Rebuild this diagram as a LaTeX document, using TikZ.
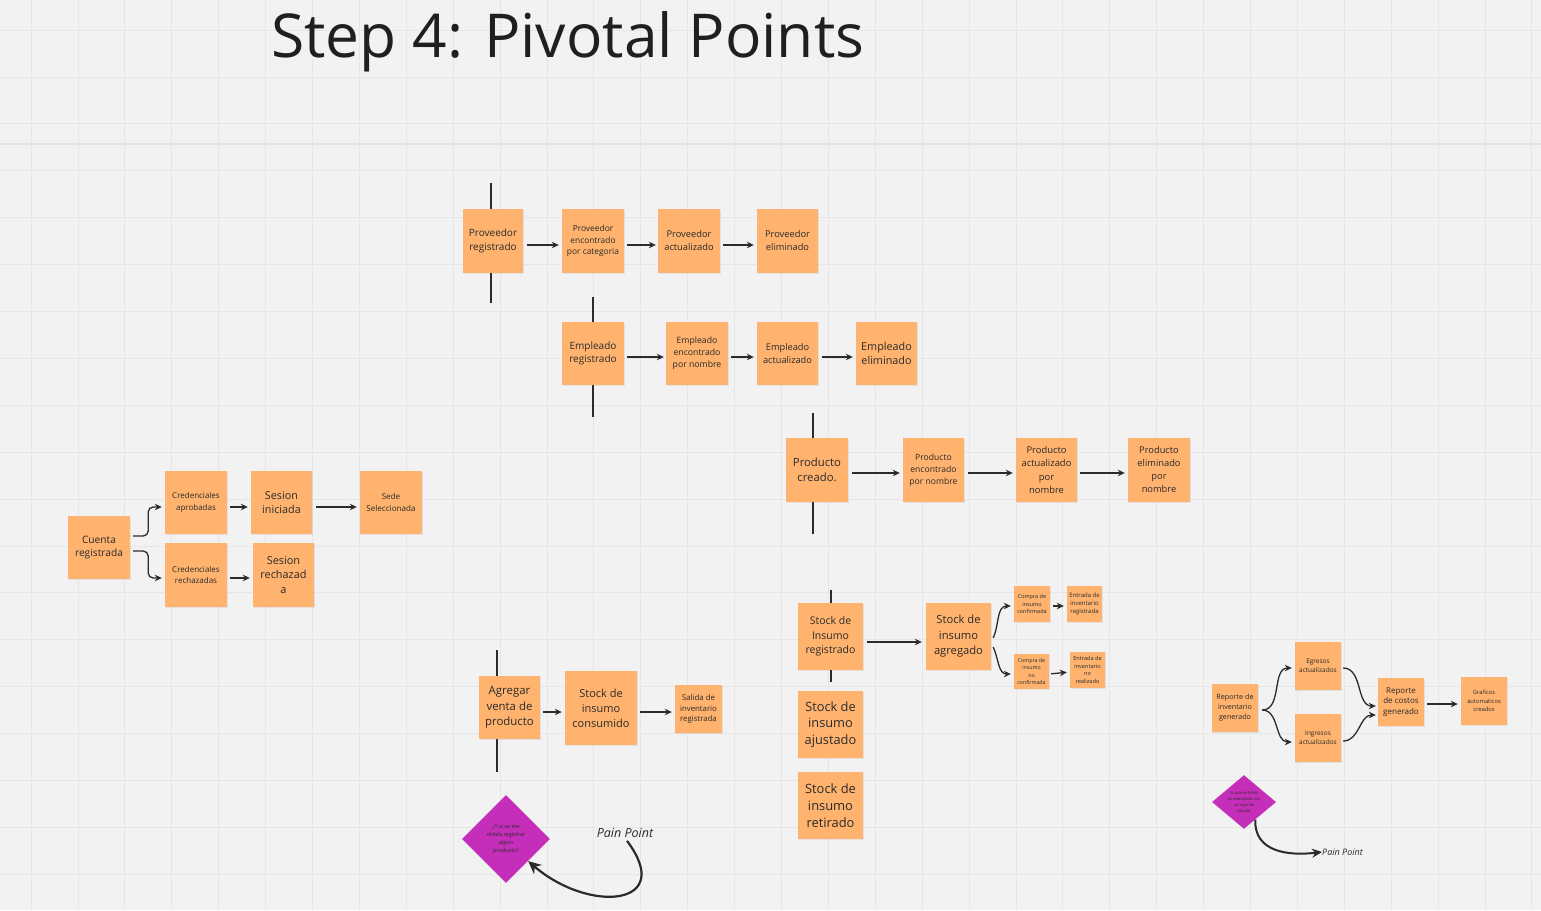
\documentclass[tikz,border=0pt]{standalone}
\usepackage{fontspec}
\setmainfont{Open Sans}
\usetikzlibrary{arrows.meta,shapes.geometric,shadows,calc}
\definecolor{bg}{HTML}{F2F2F2}
\definecolor{gridc}{HTML}{E6E6E6}
\definecolor{gridm}{HTML}{E2E2E2}
\definecolor{noteor}{HTML}{FFB36E}
\definecolor{notetxt}{HTML}{2A2A2A}
\definecolor{arrc}{HTML}{2B2B2B}
\definecolor{magen}{HTML}{C42EB9}
\begin{document}
\begin{tikzpicture}[x=1pt,y=-1pt,
 note/.style={fill=noteor, text=notetxt, align=center, inner sep=1pt,
   drop shadow={shadow xshift=0.6pt, shadow yshift=-1.4pt, opacity=0.14}},
 arr/.style={draw=arrc, line width=1.3pt, -{Stealth[length=7pt,width=6.5pt]}},
 bar/.style={draw=arrc, line width=2.4pt},
 painarr/.style={draw=arrc, line width=2.2pt, -{Stealth[length=13pt,width=12pt]}},
 painarrs/.style={draw=arrc, line width=2pt, -{Stealth[length=10pt,width=9pt]}},
 dia/.style={diamond, fill=magen, text=notetxt, align=center, inner sep=0pt},
 pain/.style={text=notetxt, inner sep=0pt}
]
\useasboundingbox (0,0) rectangle (1541,910);
\fill[bg] (0,0) rectangle (1541,910);
\foreach \i in {0,...,32} \draw[gridc, line width=0.8pt] ({31+46.9*\i},0) -- ({31+46.9*\i},910);
\foreach \j in {0,...,18} \draw[gridc, line width=0.8pt] (0,{30+46.9*\j}) -- (1541,{30+46.9*\j});
\draw[gridm, line width=1.2pt] (0,144) -- (1541,144);

% title
\node[anchor=base west, inner sep=0pt, text=black!88, font=\fontsize{60.5}{72}\selectfont] (title) at (271,57) {Step 4: Pivotal Points};

% pivotal bars
\coordinate (b1t) at (491,183); \coordinate (b1b) at (491,303);
\coordinate (b2t) at (593,297); \coordinate (b2b) at (593,417);
\coordinate (b3t) at (813,413); \coordinate (b3b) at (813,534);
\coordinate (b4t) at (497,650); \coordinate (b4b) at (497,772);
\coordinate (b5t) at (831,590); \coordinate (b5b) at (831,682);
\draw[bar] (b1t) -- (b1b);
\draw[bar] (b2t) -- (b2b);
\draw[bar] (b3t) -- (b3b);
\draw[bar] (b4t) -- (b4b);
\draw[bar] (b5t) -- (b5b);

% Proveedor row
\node[note, minimum width=60pt, minimum height=64pt, font=\fontsize{10}{13.3}\selectfont] (pr1) at (493,241) {Proveedor\\registrado};
\node[note, minimum width=62pt, minimum height=64pt, font=\fontsize{8.4}{11.2}\selectfont] (pr2) at (593,241) {Proveedor\\encontrado\\por categoria};
\node[note, minimum width=62pt, minimum height=64pt, font=\fontsize{9.3}{13}\selectfont] (pr3) at (689,241) {Proveedor\\actualizado};
\node[note, minimum width=61pt, minimum height=64pt, font=\fontsize{9.3}{13}\selectfont] (pr4) at (787.5,241) {Proveedor\\eliminado};
\draw[arr, shorten <=4pt, shorten >=3pt] ([yshift=-4pt]pr1.east) -- ([yshift=-4pt]pr2.west);
\draw[arr, shorten <=3pt, shorten >=2pt] ([yshift=-4pt]pr2.east) -- ([yshift=-4pt]pr3.west);
\draw[arr, shorten <=3pt, shorten >=3pt] ([yshift=-4pt]pr3.east) -- ([yshift=-4pt]pr4.west);

% Empleado row
\node[note, minimum width=62pt, minimum height=63pt, font=\fontsize{10}{13.3}\selectfont] (em1) at (593,353.5) {Empleado\\registrado};
\node[note, minimum width=62pt, minimum height=63pt, font=\fontsize{8.7}{11.8}\selectfont] (em2) at (697,353.5) {Empleado\\encontrado\\por nombre};
\node[note, minimum width=61pt, minimum height=63pt, font=\fontsize{9.2}{12.5}\selectfont] (em3) at (787.5,353.5) {Empleado\\actualizado};
\node[note, minimum width=61pt, minimum height=63pt, font=\fontsize{10.8}{14.5}\selectfont] (em4) at (886.5,353.5) {Empleado\\eliminado};
\draw[arr, shorten <=3pt, shorten >=2pt] ([yshift=-3.5pt]em1.east) -- ([yshift=-3.5pt]em2.west);
\draw[arr, shorten <=3pt, shorten >=3pt] ([yshift=-3.5pt]em2.east) -- ([yshift=-3.5pt]em3.west);
\draw[arr, shorten <=4pt, shorten >=3pt] ([yshift=-3.5pt]em3.east) -- ([yshift=-3.5pt]em4.west);

% Producto row
\node[note, minimum width=62pt, minimum height=64pt, font=\fontsize{11.3}{15}\selectfont] (pd1) at (817,470) {Producto\\creado.};
\node[note, minimum width=61pt, minimum height=64pt, font=\fontsize{8.6}{11.8}\selectfont] (pd2) at (933.5,470) {Producto\\encontrado\\por nombre};
\node[note, minimum width=61pt, minimum height=64pt, font=\fontsize{9.4}{13.2}\selectfont] (pd3) at (1046.5,470) {Producto\\actualizado\\por\\nombre};
\node[note, minimum width=62pt, minimum height=64pt, font=\fontsize{9.3}{13}\selectfont] (pd4) at (1159,470) {Producto\\eliminado\\por\\nombre};
\draw[arr, shorten <=4pt, shorten >=3pt] ([yshift=-3pt]pd1.east) -- ([yshift=-3pt]pd2.west);
\draw[arr, shorten <=4pt, shorten >=3pt] ([yshift=-3pt]pd2.east) -- ([yshift=-3pt]pd3.west);
\draw[arr, shorten <=3pt, shorten >=3pt] ([yshift=-3pt]pd3.east) -- ([yshift=-3pt]pd4.west);

% Cuenta section
\node[note, minimum width=62pt, minimum height=63pt, font=\fontsize{10.2}{13.5}\selectfont] (cu) at (99,547.5) {Cuenta\\registrada};
\node[note, minimum width=62pt, minimum height=63pt, font=\fontsize{8}{11.3}\selectfont] (ca) at (196,502.5) {Credenciales\\aprobadas};
\node[note, minimum width=61pt, minimum height=63pt, font=\fontsize{10.8}{14.5}\selectfont] (si) at (281.5,502.5) {Sesion\\iniciada};
\node[note, minimum width=62pt, minimum height=63pt, font=\fontsize{8.1}{11.3}\selectfont] (se) at (391,502.5) {Sede\\Seleccionada};
\node[note, minimum width=62pt, minimum height=64pt, font=\fontsize{8}{11.3}\selectfont] (cr) at (196,575) {Credenciales\\rechazadas};
\node[note, minimum width=61pt, minimum height=64pt, font=\fontsize{10.9}{14.5}\selectfont] (sr) at (283.5,575) {Sesion\\rechazad\\a};
\draw[arr, rounded corners=5pt] ($(cu.east)+(3,-11.5)$) -- ++(15,0) |- ($(ca.west)+(-3,4.5)$);
\draw[arr, rounded corners=5pt] ($(cu.east)+(3,3.5)$) -- ++(15,0) |- ($(cr.west)+(-3,3)$);
\draw[arr, shorten <=3pt, shorten >=3pt] ([yshift=-4.5pt]ca.east) -- ([yshift=-4.5pt]si.west);
\draw[arr, shorten <=4pt, shorten >=3pt] ([yshift=-4.5pt]si.east) -- ([yshift=-4.5pt]se.west);
\draw[arr, shorten <=3pt, shorten >=3pt] ([yshift=-3pt]cr.east) -- ([yshift=-3pt]sr.west);

% Agregar venta
\node[note, minimum width=61pt, minimum height=63pt, font=\fontsize{11.4}{15.3}\selectfont] (av) at (509.5,707.5) {Agregar\\venta de\\producto};
\node[note, minimum width=72pt, minimum height=74pt, font=\fontsize{11}{15}\selectfont] (sc) at (601,708) {Stock de\\insumo\\consumido};
\node[note, minimum width=47pt, minimum height=48pt, font=\fontsize{7.8}{10.5}\selectfont] (sa) at (698.5,709) {Salida de\\inventario\\registrada};
\draw[arr, shorten <=3pt, shorten >=3pt] ([yshift=-4.5pt]av.east) -- ([yshift=-4pt]sc.west);
\draw[arr, shorten <=3pt, shorten >=3pt] ([yshift=-4pt]sc.east) -- ([yshift=-3pt]sa.west);

% Stock section
\node[note, minimum width=65pt, minimum height=67pt, font=\fontsize{10.5}{14.6}\selectfont] (sr2) at (830.5,636.5) {Stock de\\Insumo\\registrado};
\node[note, minimum width=65pt, minimum height=67pt, font=\fontsize{11.2}{15.5}\selectfont] (sg) at (958.5,636.5) {Stock de\\insumo\\agregado};
\node[note, minimum width=36pt, minimum height=36pt, font=\fontsize{5.5}{7.5}\selectfont] (cc) at (1032,604) {Compra de\\insumo\\confirmada};
\node[note, minimum width=35pt, minimum height=36pt, font=\fontsize{6}{8}\selectfont] (er) at (1084.5,604) {Entrada de\\inventario\\registrada};
\node[note, minimum width=35pt, minimum height=35pt, font=\fontsize{5.3}{7.4}\selectfont] (cn) at (1031.5,671.5) {Compra de\\insumo\\no\\confirmada};
\node[note, minimum width=35pt, minimum height=36pt, font=\fontsize{5.6}{7.6}\selectfont] (en) at (1087.5,670) {Entrada de\\inventario\\no\\realizado};
\node[note, minimum width=65pt, minimum height=67pt, font=\fontsize{12.8}{16.8}\selectfont] (sj) at (830.5,724.5) {Stock de\\insumo\\ajustado};
\node[note, minimum width=65pt, minimum height=67pt, font=\fontsize{12.9}{16.8}\selectfont] (st) at (830.5,805.5) {Stock de\\insumo\\retirado};
\draw[arr, shorten <=4pt, shorten >=4pt] ([yshift=-5.5pt]sr2.east) -- ([yshift=-5.5pt]sg.west);
\draw[arr] ([xshift=2pt,yshift=-1.5pt]sg.east) to[out=65,in=180] ([xshift=-3pt,yshift=-2pt]cc.west);
\draw[arr] ([xshift=2pt,yshift=-10.5pt]sg.east) to[out=-65,in=180] ([xshift=-3pt,yshift=-2.5pt]cn.west);
\draw[arr, shorten <=3pt, shorten >=3pt] ([yshift=-2pt]cc.east) -- ([yshift=-2pt]er.west);
\draw[arr, shorten <=2pt, shorten >=3pt] ([yshift=-2.5pt]cn.east) -- ([yshift=-2pt]en.west);

% Reporte section
\node[note, minimum width=46pt, minimum height=48pt, font=\fontsize{7.2}{10}\selectfont] (ri) at (1235,708) {Reporte de\\inventario\\generado};
\node[note, minimum width=46pt, minimum height=48pt, font=\fontsize{6.5}{9}\selectfont] (eg) at (1318,666) {Egresos\\actualizados};
\node[note, minimum width=46pt, minimum height=48pt, font=\fontsize{6.5}{9}\selectfont] (ig) at (1318,738) {Ingresos\\actualizados};
\node[note, minimum width=46pt, minimum height=48pt, font=\fontsize{8}{10.8}\selectfont] (rc) at (1401,702) {Reporte\\de costos\\generado};
\node[note, minimum width=46pt, minimum height=48pt, font=\fontsize{5.8}{8.7}\selectfont] (gr) at (1484,701) {Graficos\\automaticos\\creados};
\draw[arr] ([xshift=4pt,yshift=-2pt]ri.east) to[out=0,in=180] ([xshift=-3pt,yshift=-2pt]eg.west);
\draw[arr] ([xshift=4pt,yshift=-2pt]ri.east) to[out=0,in=180] ([xshift=-3pt,yshift=-4pt]ig.west);
\draw[arr] ([xshift=2pt,yshift=-2pt]eg.east) to[out=0,in=180] ([xshift=-2pt,yshift=-4pt]rc.west);
\draw[arr] ([xshift=2pt,yshift=-3pt]ig.east) to[out=0,in=180] ([xshift=-2pt,yshift=-13pt]rc.west);
\draw[arr, shorten <=3pt, shorten >=3pt] ([yshift=-2pt]rc.east) -- ([yshift=-3pt]gr.west);

% Pain points
\node[dia, minimum width=88pt, minimum height=88pt, font=\fontsize{5.5}{8}\selectfont] (d1) at (506,839) {¿Y si se me\\olvida registrar\\algun\\producto?};
\node[pain, font=\itshape\fontsize{12.5}{15}\selectfont] (p1) at (625,833) {Pain Point};
\draw[painarr] ($(p1.south)+(2,3)$) .. controls (676,906) and (590,914) .. (d1.south east);

\node[dia, minimum width=64pt, minimum height=50pt, font=\fontsize{4.1}{6}\selectfont] (d2) at (1244,802) {Si ocurre fallos\\es manejado con\\su hoja de\\calculo};
\node[pain, anchor=west, font=\itshape\fontsize{9}{11}\selectfont] (p2) at (1322,852) {Pain Point};
\draw[painarrs] ($(d2.south)!0.35!(d2.east)$) .. controls (1254,852) and (1288,856) .. (p2.west);
\end{tikzpicture}
\end{document}
